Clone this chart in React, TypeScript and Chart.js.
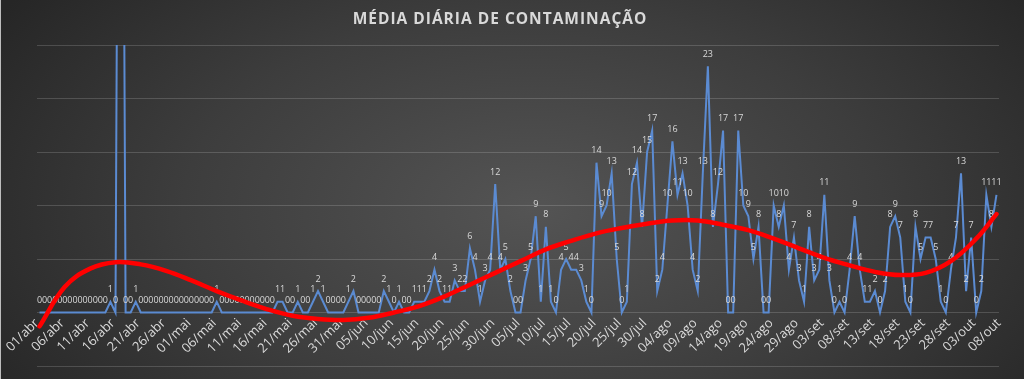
import React, { useEffect, useRef } from 'react';
import { Chart, registerables } from 'chart.js';

Chart.register(...registerables);

// Tick labels every 5 days (01/abr .. 08/out)
const tickLabels = [
  '01/abr', '06/abr', '11/abr', '16/abr', '21/abr', '26/abr',
  '01/mai', '06/mai', '11/mai', '16/mai', '21/mai', '26/mai', '31/mai',
  '05/jun', '10/jun', '15/jun', '20/jun', '25/jun', '30/jun',
  '05/jul', '10/jul', '15/jul', '20/jul', '25/jul', '30/jul',
  '04/ago', '09/ago', '14/ago', '19/ago', '24/ago', '29/ago',
  '03/set', '08/set', '13/set', '18/set', '23/set', '28/set',
  '03/out', '08/out',
];

// Daily values, by month
const abril = [
  0, 0, 0, 0, 0, 0, 0, 0, 0, 0, 0, 0, 0, 0, 1, 0, 100, 0, 0, 1,
  0, 0, 0, 0, 0, 0, 0, 0, 0, 0,
];
const maio = [
  0, 0, 0, 0, 0, 1, 0, 0, 0, 0, 0, 0, 0, 0, 0, 0, 0, 1, 1, 0,
  0, 1, 0, 0, 1, 2, 1, 0, 0, 0, 0,
];
const junho = [
  1, 2, 0, 0, 0, 0, 0, 2, 1, 0, 1, 0, 0, 1, 1, 1, 2, 4, 2, 1,
  1, 3, 2, 2, 6, 4, 1, 3, 4, 12,
];
const julho = [
  4, 5, 2, 0, 0, 3, 5, 9, 1, 8, 1, 0, 4, 5, 4, 4, 3, 1, 0, 14,
  9, 10, 13, 5, 0, 1, 12, 14, 8, 15, 17,
];
const agosto = [
  2, 4, 10, 16, 11, 13, 10, 4, 2, 13, 23, 8, 12, 17, 0, 0, 17, 10, 9, 5,
  8, 0, 0, 10, 8, 10, 4, 7, 3, 1, 8,
];
const setembro = [
  3, 4, 11, 3, 0, 1, 0, 4, 9, 4, 1, 1, 2, 0, 2, 8, 9, 7, 1, 0,
  8, 5, 7, 7, 5, 1, 0, 4, 7, 13,
];
const outubro = [2, 7, 0, 2, 11, 8, 11];

const dailyCases = [...abril, ...maio, ...junho, ...julho, ...agosto, ...setembro, ...outubro];

// Polynomial trend line, every 5 days
const trendDays = [
  0, 5, 10, 15, 20, 25, 30, 35, 40, 45, 50, 55, 60, 65, 70, 75, 80, 85, 90, 95,
  100, 105, 110, 115, 120, 125, 130, 135, 140, 145, 150, 155, 160, 165, 170, 175, 180, 185, 189,
];
const trendValues = [
  -1.3, 2.4, 4.1, 4.7, 4.5, 3.9, 3.0, 2.0, 1.1, 0.3, -0.3, -0.6, -0.7, -0.5, 0.0, 0.6, 1.5, 2.6, 3.7, 4.8,
  5.9, 6.7, 7.4, 7.9, 8.3, 8.6, 8.6, 8.2, 7.7, 6.9, 6.0, 5.1, 4.4, 3.8, 3.5, 3.7, 4.8, 6.9, 9.2,
];

const TITLE = 'MÉDIA DIÁRIA DE CONTAMINAÇÃO';
const Y_MIN = -5;
const Y_MAX = 25;

export default function App() {
  const canvasRef = useRef<HTMLCanvasElement | null>(null);

  useEffect(() => {
    document.body.style.margin = '0';
    const canvas = canvasRef.current;
    if (!canvas) return;

    const titlePlugin = {
      id: 'titleText',
      afterDraw(chart: any) {
        const ctx = chart.ctx as CanvasRenderingContext2D;
        ctx.save();
        ctx.font = 'bold 15.5px "Open Sans"';
        (ctx as any).letterSpacing = '1px';
        ctx.fillStyle = '#d9d9d9';
        ctx.textAlign = 'center';
        ctx.textBaseline = 'middle';
        ctx.fillText(TITLE, 500, 20);
        ctx.restore();
      },
    };

    const labelPlugin = {
      id: 'pointLabels',
      afterDatasetDraw(chart: any, args: any) {
        if (args.index !== 1) return;
        const ctx = chart.ctx as CanvasRenderingContext2D;
        const meta = chart.getDatasetMeta(1);
        ctx.save();
        ctx.font = '9px "Open Sans"';
        ctx.fillStyle = '#d9d9d9';
        ctx.textAlign = 'center';
        ctx.textBaseline = 'middle';
        meta.data.forEach((pt: any, i: number) => {
          const v = dailyCases[i];
          if (v > Y_MAX) return;
          ctx.fillText(String(v), pt.x, pt.y - 12);
        });
        ctx.restore();
      },
    };

    const chart = new Chart(canvas, {
      type: 'line',
      data: {
        datasets: [
          {
            label: 'Tendência',
            data: trendDays.map((d, k) => ({ x: d + 0.5, y: trendValues[k] })),
            borderColor: '#ff0000',
            borderWidth: 4.5,
            borderCapStyle: 'round',
            tension: 0.4,
            pointRadius: 0,
            order: 0,
          },
          {
            label: 'Casos',
            data: dailyCases.map((v, i) => ({ x: i + 0.5, y: v })),
            borderColor: '#5b8bd2',
            borderWidth: 2,
            tension: 0,
            pointRadius: 0,
            order: 1,
          },
        ],
      },
      options: {
        animation: false,
        responsive: true,
        maintainAspectRatio: false,
        layout: { padding: { left: 37, right: 25, top: 45, bottom: 13 } },
        plugins: {
          legend: { display: false },
          title: { display: false },
          tooltip: { enabled: false },
        },
        scales: {
          x: {
            type: 'linear',
            min: 0,
            max: 190,
            position: { y: 0 } as any,
            afterFit: (s: any) => {
              s.height = 0;
            },
            grid: { display: false, drawTicks: false },
            border: { display: false },
            ticks: {
              stepSize: 5,
              autoSkip: false,
              minRotation: 45,
              maxRotation: 45,
              color: '#d9d9d9',
              padding: 3,
              font: { family: 'Open Sans', size: 13 },
              callback: (v: any) => tickLabels[Math.round(Number(v) / 5)] ?? '',
            },
          },
          y: {
            min: Y_MIN,
            max: Y_MAX,
            afterFit: (s: any) => {
              s.width = 0;
            },
            grid: { color: 'rgba(255,255,255,0.16)', drawTicks: false, lineWidth: 1 },
            border: { display: false },
            ticks: { display: false, stepSize: 5 },
          },
        },
      },
      plugins: [titlePlugin, labelPlugin],
    });

    return () => chart.destroy();
  }, []);

  return (
    <div
      style={{
        position: 'relative',
        width: 1024,
        height: 379,
        overflow: 'hidden',
        background:
          'radial-gradient(ellipse 62% 95% at 52% 55%, #545454 0%, #3d3d3d 55%, #262626 100%)',
      }}
    >
      <div style={{ position: 'absolute', left: 0, top: 0, width: 1, height: 379, background: '#bdbdbd' }} />
      <canvas ref={canvasRef} style={{ position: 'absolute', left: 0, top: 0 }} />
    </div>
  );
}
